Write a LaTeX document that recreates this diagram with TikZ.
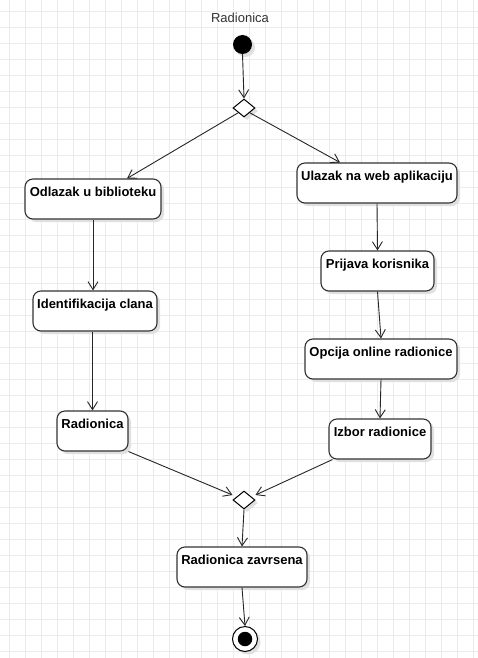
\documentclass[tikz,border=0pt]{standalone}
\usepackage{fontspec}
\setmainfont{Liberation Sans}
\usetikzlibrary{shapes.geometric,arrows.meta,shadows,calc}
\definecolor{gridc}{HTML}{EBEBEB}
\begin{document}
\begin{tikzpicture}[x=1pt,y=-1pt,
  shd/.style={drop shadow={shadow xshift=3pt,shadow yshift=-3pt,fill=black!12,opacity=1}},
  act/.style={draw=black!80,line width=1.1pt,fill=white,rounded corners=8pt,
    minimum height=40pt,inner xsep=0pt,inner ysep=0pt,text height=17.5pt,text depth=22.5pt,
    font=\fontsize{13}{15}\selectfont\bfseries,shd},
  flow/.style={draw=black!85,line width=0.9pt,-{Straight Barb[length=8pt,width=10pt]}},
  decn/.style={diamond,draw=black,line width=1pt,fill=white,minimum width=22pt,
    minimum height=18pt,inner sep=0pt,shd},
  gridline/.style={draw=gridc,line width=0.9pt}]
\useasboundingbox (0,0) rectangle (478,658);
\fill[white] (0,0) rectangle (478,658);
\foreach \i in {0,...,29}{\draw[gridline] (9.3+16*\i,0) -- (9.3+16*\i,658);}
\foreach \j in {0,...,40}{\draw[gridline] (0,11.3+16*\j) -- (478,11.3+16*\j);}

\node[font=\fontsize{13}{15}\selectfont,text=black!80] (title) at (240,18) {Radionica};
\node[circle,fill=black,minimum size=19pt,inner sep=0pt,shd] (start) at (242.5,44.5) {};
\node[decn] (dec) at (244,108) {};

\node[act,minimum width=136pt] (odl) at (93,199) {Odlazak u biblioteku};
\node[act,minimum width=124pt] (ident) at (95,311) {Identifikacija clana};
\node[act,minimum width=71pt] (rad) at (92.5,431) {Radionica};

\node[act,minimum width=160pt] (ulaz) at (377,183) {Ulazak na web aplikaciju};
\node[act,minimum width=113pt] (prij) at (377.5,271) {Prijava korisnika};
\node[act,minimum width=152pt] (opc) at (381,359) {Opcija online radionice};
\node[act,minimum width=102pt] (izbor) at (380,439) {Izbor radionice};

\node[decn] (merge) at (244,500) {};
\node[act,minimum width=130pt] (zavr) at (242,567) {Radionica zavrsena};
\node[circle,draw=black,line width=1pt,fill=white,minimum size=25pt,inner sep=0pt,shd] (end) at (245,639) {};
\node[circle,fill=black,minimum size=14.5pt,inner sep=0pt] (endin) at (end) {};

\draw[flow] (start.south) -- (dec.north);
\draw[flow] (dec.south west) -- ([xshift=34pt]odl.north);
\draw[flow] (dec.south east) -- ([xshift=-37pt]ulaz.north);
\draw[flow] (odl.south) -- (odl.south |- ident.north);
\draw[flow] (rad.north |- ident.south) -- (rad.north);
\draw[flow] (ulaz.south) -- (prij.north);
\draw[flow] (prij.south) -- (opc.north);
\draw[flow] (opc.south) -- (izbor.north);
\draw[flow] (rad.south east) -- ([yshift=5pt]merge.west);
\draw[flow] ([xshift=4pt]izbor.south west) -- ([yshift=5pt]merge.east);
\draw[flow] (merge.south) -- (zavr.north);
\draw[flow] (zavr.south) -- (end.north);
\end{tikzpicture}
\end{document}
